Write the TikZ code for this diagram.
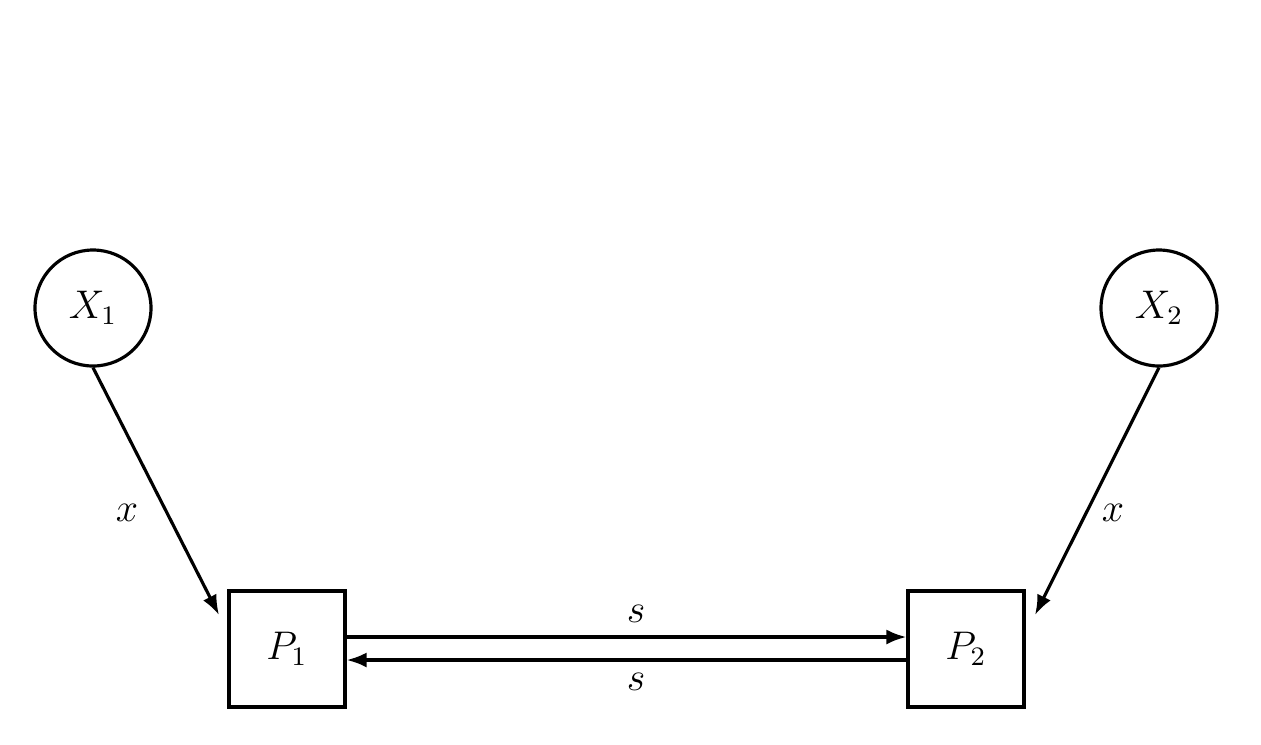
\documentclass[tikz,border=0pt]{standalone}
\usetikzlibrary{arrows.meta}
\begin{document}
\begin{tikzpicture}[x=0.3pt,y=-0.3pt,font=\large,
  ln/.style={line width=0.95pt},
  arr/.style={ln,-{Latex[length=6pt,width=4.5pt]}},
  circ/.style={draw,ln,circle,minimum size=34.8pt,inner sep=0pt},
  box/.style={draw,ln,rectangle,minimum size=34.8pt,inner sep=0pt}]
\useasboundingbox (0,0) rectangle (1261,744);
\node[circ] (X1) at (93,308) {$X_1$};
\node[circ] (X2) at (1159,308) {$X_2$};
\node[box] (P1) at (287,649) {$P_1$};
\node[box] (P2) at (966,649) {$P_2$};
\coordinate (e1) at (219,615);
\coordinate (e2) at (1035,615);
\draw[arr] (X1.south) -- (e1);
\draw[arr] (X2.south) -- (e2);
\node (lx1) at (127,513) {$x$};
\node (lx2) at (1113,513) {$x$};
\draw[arr] (P1.east |- 0,637) -- (P2.west |- 0,637);
\draw[arr] (P2.west |- 0,660) -- (P1.east |- 0,660);
\node (ls1) at (636,614) {$s$};
\node (ls2) at (636,682) {$s$};
\end{tikzpicture}
\end{document}
